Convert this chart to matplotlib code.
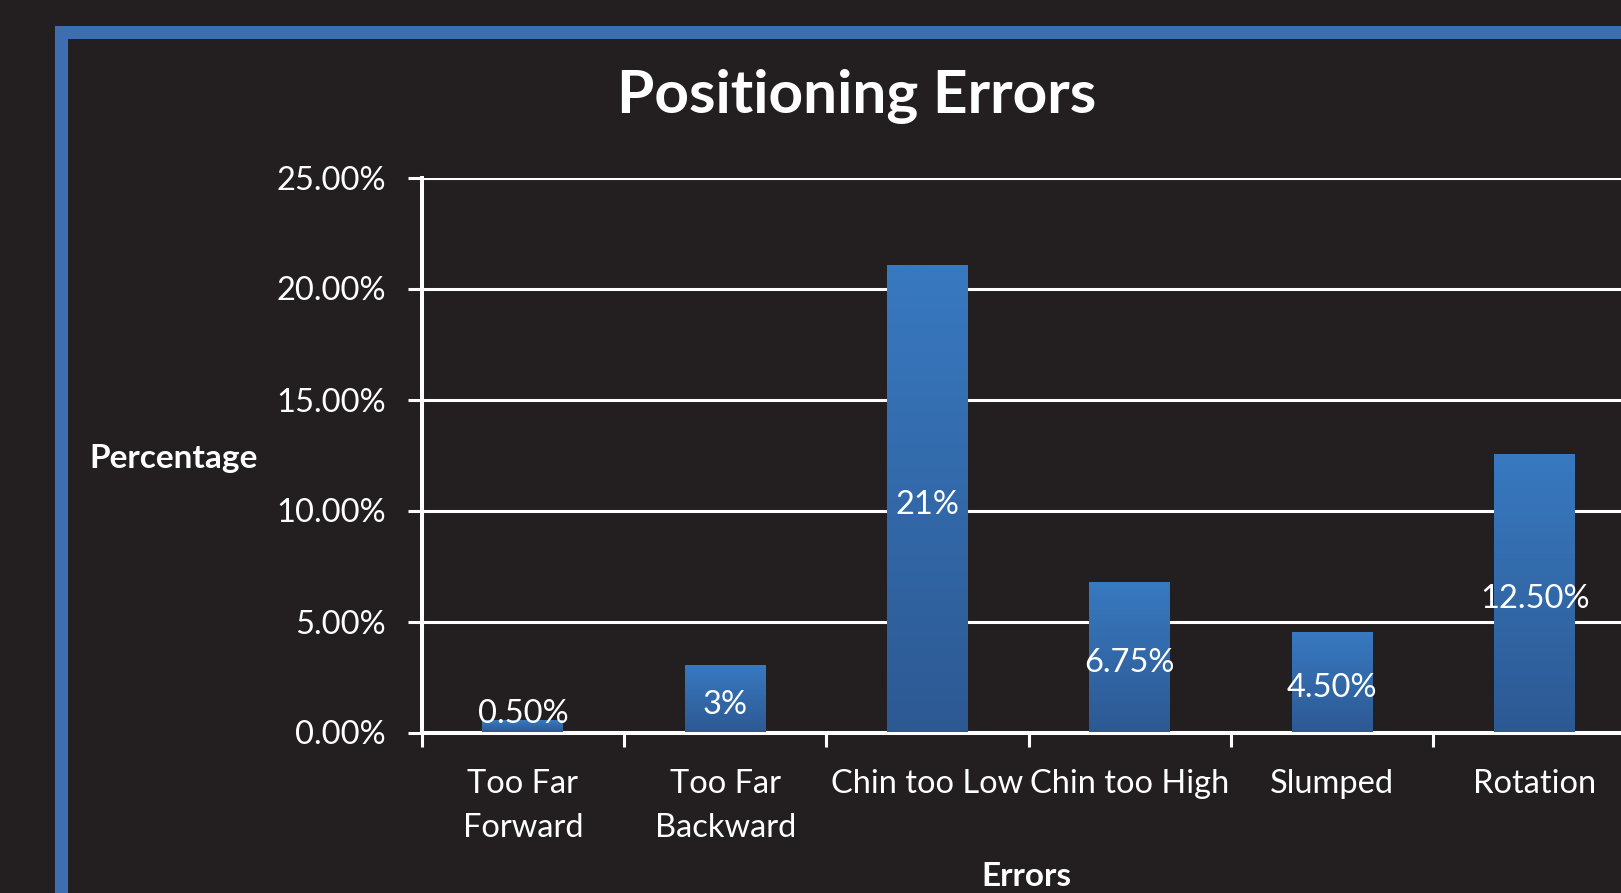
import numpy as np
import matplotlib.pyplot as plt
from matplotlib.colors import LinearSegmentedColormap
from matplotlib.patches import Rectangle

categories = ['Too Far\nForward', 'Too Far\nBackward', 'Chin too Low', 'Chin too High', 'Slumped', 'Rotation']
values = [0.5, 3, 21, 6.75, 4.5, 12.5]
value_labels = ['0.50%', '3%', '21%', '6.75%', '4.50%', '12.50%']
yticks = [0, 5, 10, 15, 20, 25]
ytick_labels = ['0.00%', '5.00%', '10.00%', '15.00%', '20.00%', '25.00%']

bg = '#231f20'
plt.rcParams['font.family'] = ['Lato', 'DejaVu Sans']

fig = plt.figure(figsize=(16.21, 8.93), dpi=100, facecolor=bg)
W, H = 1621, 893

# blue frame, runs off the right and bottom edges
fig.patches.append(Rectangle((60.5 / W, -0.2), 1.5, 1 - 31.5 / H + 0.2, transform=fig.transFigure,
                             fill=False, edgecolor='#3d6fb0', linewidth=9.4, zorder=0))

ax = fig.add_axes([421.7 / W, 1 - 732.5 / H, 1214 / W, (732.5 - 177.5) / H])
ax.set_facecolor(bg)

cmap = LinearSegmentedColormap.from_list('bar', ['#2d5993', '#3879c0'])
grad = np.linspace(0, 1, 256).reshape(-1, 1)
bw = 0.4
x = np.arange(len(values))
for xi, v, lab in zip(x, values, value_labels):
    ax.imshow(grad, extent=[xi - bw / 2, xi + bw / 2, 0, v], origin='lower', aspect='auto',
              cmap=cmap, zorder=3)
    ax.annotate(lab, (xi, max(v / 2, 1.1)), xytext=(0, -4), textcoords='offset points',
                ha='center', va='center', color='white', fontsize=23.5, zorder=4)

ax.set_xlim(-0.5, len(values) - 0.5)
ax.set_ylim(0, 25)

ax.set_yticks(yticks)
ax.set_yticklabels(ytick_labels)
ax.yaxis.grid(True, color='white', linewidth=2.2, zorder=1)
ax.set_axisbelow(True)

ax.set_xticks(np.arange(-0.5, len(values)))
ax.set_xticklabels([])
ax.set_xticks(x, minor=True)
ax.set_xticklabels(categories, minor=True, linespacing=1.6)

ax.tick_params(axis='y', colors='white', labelsize=23.5, length=10, width=2.2, pad=16)
ax.tick_params(axis='x', which='major', colors='white', length=10, width=2.2)
ax.tick_params(axis='x', which='minor', colors='white', labelsize=23.5, length=0, pad=26)

for s in ['top', 'right']:
    ax.spines[s].set_visible(False)
for s in ['left', 'bottom']:
    ax.spines[s].set_color('white')
    ax.spines[s].set_linewidth(2.9)

fig.text(857 / W, 1 - 113.3 / H, 'Positioning Errors', ha='center', va='baseline',
         color='white', fontsize=43.5, fontweight='bold')
fig.text(174 / W, 1 - 468.3 / H, 'Percentage', ha='center', va='baseline',
         color='white', fontsize=24, fontweight='bold')
fig.text(1026.7 / W, 1 - 886 / H, 'Errors', ha='center', va='baseline',
         color='white', fontsize=24, fontweight='bold')

fig.savefig('out.png', dpi=100, facecolor=bg)
